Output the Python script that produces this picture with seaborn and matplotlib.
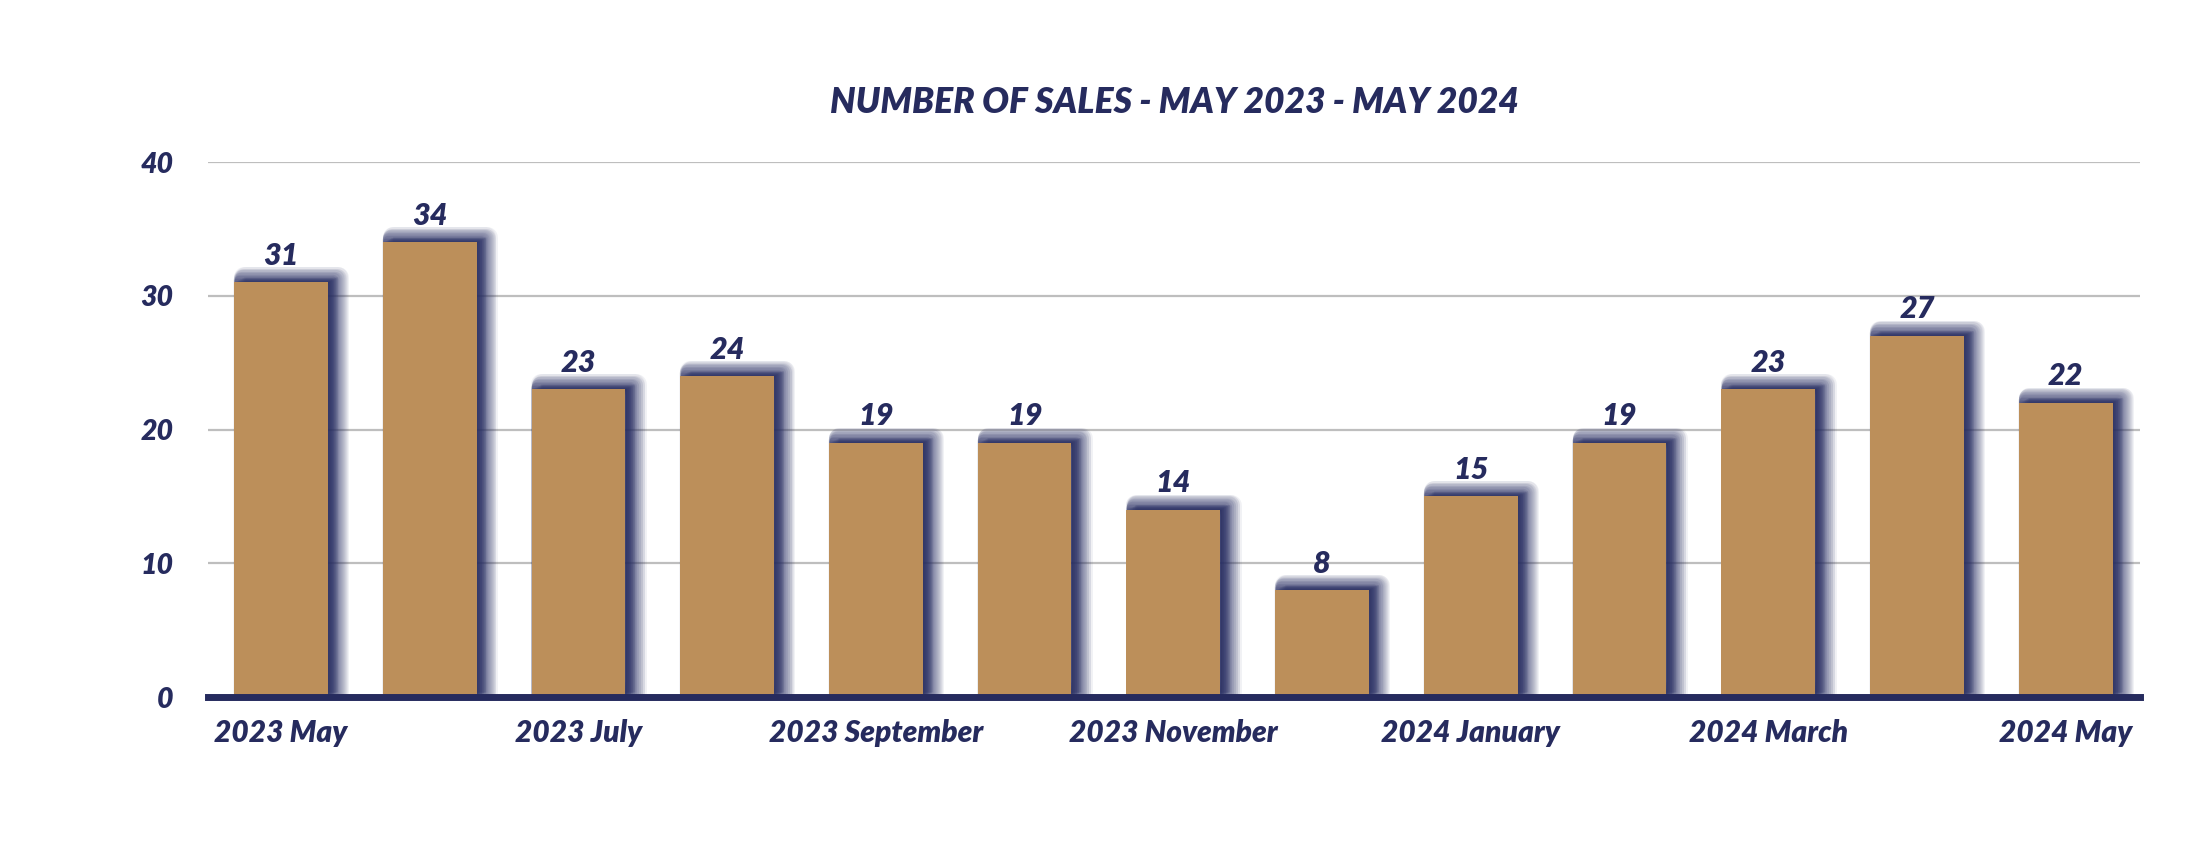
import matplotlib
matplotlib.use("Agg")
import matplotlib.pyplot as plt
import matplotlib.patheffects as pe
import seaborn as sns

# data
MONTHS = [
    "2023 May", "2023 June", "2023 July", "2023 August", "2023 September",
    "2023 October", "2023 November", "2023 December", "2024 January",
    "2024 February", "2024 March", "2024 April", "2024 May",
]
SALES = [31, 34, 23, 24, 19, 19, 14, 8, 15, 19, 23, 27, 22]
Y_TICKS = [0, 10, 20, 30, 40]
TITLE = "NUMBER OF SALES - MAY 2023 - MAY 2024"

BAR_COLOR = "#BC8F5A"
NAVY = "#262B5E"
SHADOW = "#2E3468"
GRID = "#BEBEBE"
FONT = ["Lato", "DejaVu Sans"]
WEIGHT = "heavy"

sns.set_theme(style="white")
plt.rcParams["font.family"] = FONT

fig = plt.figure(figsize=(22.04, 8.5), dpi=100)
ax = fig.add_axes([0.0944, 0.18, 0.8766, 0.6294])

sns.barplot(x=MONTHS, y=SALES, color=BAR_COLOR, saturation=1, width=0.63,
            edgecolor="none", linewidth=0, ax=ax, zorder=3)

# soft navy drop shadow up and to the right: faint layers whose left edge
# stays hidden behind the bar while they grow outwards
shadow_fx = []
n_layers = 22
for k in range(n_layers, 0, -1):
    w = 15.0 * k / n_layers
    shadow_fx.append(pe.SimplePatchShadow(offset=(w / 2, w / 4), shadow_rgbFace=SHADOW,
                                          alpha=0.065, linewidth=w,
                                          foreground=SHADOW, joinstyle="round"))
shadow_fx.append(pe.Normal())
for bar in ax.patches:
    bar.set_path_effects(shadow_fx)

# value labels
for i, v in enumerate(SALES):
    ax.annotate(str(v), (i, v), xytext=(0, 9), textcoords="offset points",
                ha="center", va="bottom", fontsize=22, fontweight=WEIGHT,
                fontstyle="italic", color=NAVY, zorder=5)

ax.set_ylim(0, 40)
ax.set_xlim(-0.49, len(MONTHS) - 0.5)
ax.set_yticks(Y_TICKS)
ax.set_yticklabels([str(t) for t in Y_TICKS])
ax.set_xticks(range(len(MONTHS)))
ax.set_xticklabels([m if i % 2 == 0 else "" for i, m in enumerate(MONTHS)])
ax.set_xlabel("")
ax.set_ylabel("")

for lbl in ax.get_xticklabels():
    lbl.set_fontsize(21.5)
for lbl in ax.get_yticklabels():
    lbl.set_fontsize(20.5)
for lbl in ax.get_xticklabels() + ax.get_yticklabels():
    lbl.set_fontweight(WEIGHT)
    lbl.set_fontstyle("italic")
    lbl.set_color(NAVY)
ax.tick_params(axis="y", length=0, pad=25)
ax.tick_params(axis="x", length=0, pad=16)

ax.yaxis.grid(True, color=GRID, linewidth=1.6, zorder=0)
ax.set_axisbelow(True)
for side in ["left", "right", "top"]:
    ax.spines[side].set_visible(False)
ax.spines["bottom"].set_color(NAVY)
ax.spines["bottom"].set_linewidth(5)
ax.spines["bottom"].set_zorder(4)

fig.text(0.0944 + 0.8766 / 2, 0.879, TITLE, ha="center", va="center",
         fontsize=25.5, fontweight=WEIGHT, fontstyle="italic", color=NAVY)

fig.savefig("out.png", dpi=100, facecolor="white")
